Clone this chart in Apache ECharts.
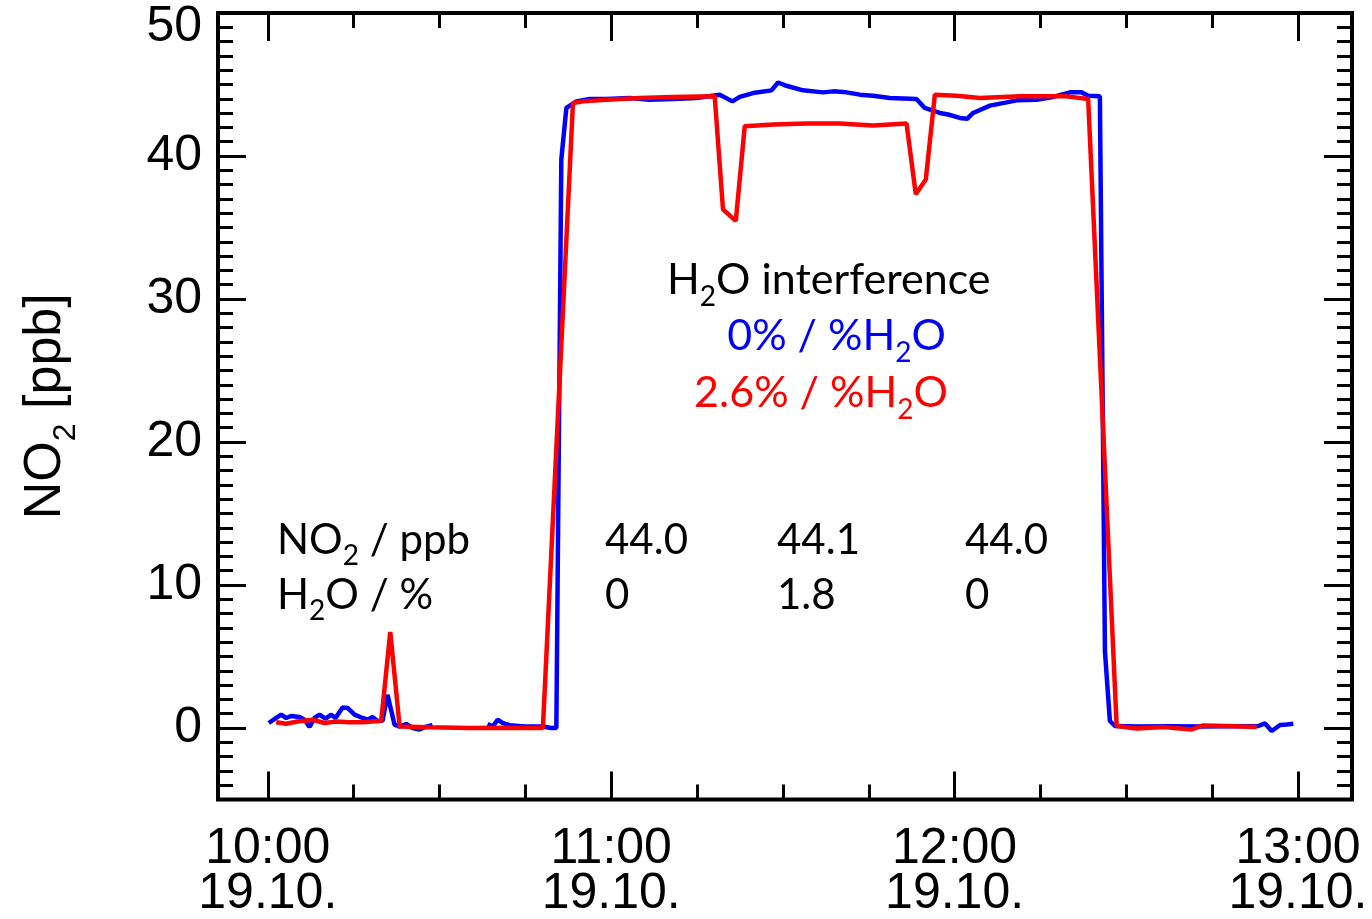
<!DOCTYPE html>
<html>
<head>
<meta charset="utf-8">
<script src="https://cdn.jsdelivr.net/npm/echarts@6/dist/echarts.min.js"></script>
<style>
  html, body { margin: 0; padding: 0; background: #fff; }
  #chart { width: 1372px; height: 919px; }
</style>
</head>
<body>
<div id="chart"></div>
<script>
// NO2 mixing ratio during the calibration run on 19.10.
// Times are local clock time (HH:MM:SS), values in ppb. null marks a data gap.
const blueTimes = [
  '10:00:10','10:01:28','10:02:20','10:03:13','10:04:05','10:05:32','10:06:25','10:07:17',
  '10:08:10','10:09:02','10:10:05','10:11:05','10:11:50','10:13:04','10:13:56','10:15:10',
  '10:16:33','10:17:26','10:18:18','10:19:11','10:20:03','10:20:55','10:22:09','10:23:01',
  '10:24:11','10:25:17','10:26:31','10:27:41','10:28:47','10:33:30','10:38:24','10:39:17',
  '10:40:09','10:41:01','10:42:15','10:44:52','10:48:01','10:49:32','10:50:25','10:51:17',
  '10:52:10','10:53:55','10:56:14','10:59:09','11:03:14','11:06:43','11:10:48','11:14:53',
  '11:18:58','11:21:11','11:22:28','11:24:47','11:28:00','11:29:09','11:30:37','11:33:31',
  '11:37:01','11:38:46','11:41:07','11:43:26','11:45:46','11:48:41','11:53:20','11:54:47',
  '11:57:25','11:58:52','12:00:55','12:02:11','12:03:14','12:06:10','12:09:05','12:10:50',
  '12:14:19','12:17:13','12:20:08','12:22:11','12:23:20','12:25:23','12:26:16','12:27:08',
  '12:28:01','12:32:23','12:37:37','12:42:52','12:48:07','12:53:04','12:54:14','12:55:24',
  '12:56:51','12:58:01','12:59:11'
];
const blueValues = [
  0.35, 0.70, 0.93, 0.70, 0.84, 0.77, 0.58, 0.07,
  0.70, 0.93, 0.65, 0.93, 0.70, 1.44, 1.40, 0.93,
  0.70, 0.58, 0.77, 0.49, 0.51, 2.32, 0.23, 0.10,
  0.28, 0.00, -0.10, 0.10, 0.20, null, 0.28, 0.10,
  0.58, 0.35, 0.20, 0.10, 0.10, 0.00, 0.00, 39.75,
  43.36, 43.82, 43.99, 43.99, 44.06, 43.94, 43.99, 44.06,
  44.29, 43.82, 44.13, 44.40, 44.59, 45.14, 44.91, 44.59,
  44.45, 44.52, 44.45, 44.29, 44.22, 44.06, 43.99, 43.36,
  43.01, 42.90, 42.66, 42.60, 43.01, 43.52, 43.75, 43.89,
  43.94, 44.13, 44.45, 44.45, 44.22, 44.17, 5.36, 0.49,
  0.14, 0.10, 0.12, 0.10, 0.12, 0.14, 0.32, -0.21,
  0.21, 0.25, 0.30
];

const redTimes = [
  '10:01:28','10:03:13','10:05:11','10:07:49','10:09:55','10:11:58','10:14:17','10:16:33',
  '10:19:49','10:21:24','10:23:02','10:28:16','10:35:16','10:42:15','10:48:04','10:53:19',
  '10:55:04','10:59:09','11:04:58','11:10:48','11:18:05','11:19:32','11:21:46','11:23:20',
  '11:28:17','11:34:07','11:39:56','11:45:46','11:51:36','11:53:13','11:54:58','11:56:33',
  '12:00:20','12:04:25','12:11:25','12:19:34','12:23:20','12:28:19','12:31:48','12:36:27',
  '12:41:25','12:43:27','12:47:32','12:52:47'
];
const redValues = [
  0.40, 0.30, 0.45, 0.58, 0.35, 0.45, 0.40, 0.40,
  0.51, 6.71, 0.10, 0.05, 0.00, 0.02, 0.00, 43.71,
  43.82, 43.94, 44.06, 44.13, 44.17, 36.27, 35.46, 42.08,
  42.20, 42.27, 42.27, 42.13, 42.27, 37.32, 38.36, 44.29,
  44.22, 44.06, 44.17, 44.17, 43.99, 0.14, -0.03, 0.07,
  -0.10, 0.18, 0.14, 0.07
];

// axis layout in clock time
const xStart = '09:51:18';
const xEnd = '13:09:26';
const hourTicks = ['10:00', '11:00', '12:00', '13:00'];
const quarterTicks = ['10:15','10:30','10:45','11:15','11:30','11:45','12:15','12:30','12:45'];
const dateLabel = '19.10.';
const yMin = -5;
const yMax = 50;
const yMajorTicks = [0, 10, 20, 30, 40, 50];

// measurement table: row labels as [text, subscript, text]
const rowNO2 = ['NO', '2', ' / ppb'];
const rowH2O = ['H', '2', 'O / %'];
const tableNO2 = ['44.0', '44.1', '44.0'];
const tableH2O = ['0', '1.8', '0'];
const interferenceBlue = '0%';
const interferenceRed = '2.6%';

function toMinutes(s) {
  const p = s.split(':').map(Number);
  return p[0] * 60 + p[1] + (p[2] || 0) / 60;
}
function pairs(times, values) {
  return times.map((t, i) => [toMinutes(t), values[i] === null ? '-' : values[i]]);
}
function clockLabel(v) {
  const h = Math.floor(v / 60 + 1e-6);
  const m = Math.round(v - h * 60);
  return h + ':' + String(m).padStart(2, '0') + '\n' + dateLabel;
}
function withSub(parts) {
  return '{m|' + parts[0] + '}{s|' + parts[1] + '}{m|' + parts[2] + '}';
}

const X_MIN = toMinutes(xStart);
const X_MAX = toMinutes(xEnd);
const hourVals = hourTicks.map(toMinutes);
const quarterVals = quarterTicks.map(toMinutes);

const BLACK = '#000';
const AXIS_FONT = 'Liberation Sans';
const NOTE_FONT = 'Lato';

function xAxisDef(position, values, len, withLabels) {
  return {
    type: 'value', min: X_MIN, max: X_MAX, position: position,
    axisLine: { show: false, onZero: false },
    splitLine: { show: false },
    axisTick: { show: true, inside: true, length: len, customValues: values,
                lineStyle: { color: BLACK, width: 3 } },
    axisLabel: withLabels ? {
      show: true, customValues: values, formatter: clockLabel,
      fontFamily: AXIS_FONT, fontSize: 50, lineHeight: 45, color: BLACK, margin: 27
    } : { show: false }
  };
}
function yAxisDef(position, major, withLabels) {
  const ax = {
    type: 'value', min: yMin, max: yMax, position: position,
    axisLine: { show: false, onZero: false },
    splitLine: { show: false },
    axisTick: { show: true, inside: true, length: major ? 28 : 15,
                lineStyle: { color: BLACK, width: 3 } },
    axisLabel: { show: false }
  };
  if (major) {
    ax.axisTick.customValues = yMajorTicks;
  } else {
    ax.interval = 1;
  }
  if (withLabels) {
    ax.axisLabel = {
      show: true, customValues: yMajorTicks,
      formatter: v => v === yMax ? '{top|' + v + '}' : String(v),
      fontFamily: AXIS_FONT, fontSize: 50, color: BLACK, margin: 16,
      rich: { top: { fontFamily: AXIS_FONT, fontSize: 50, color: BLACK, padding: [28, 0, 0, 0] } }
    };
    ax.name = '{n|NO}{s|2}{n| [ppb]}';
    ax.nameLocation = 'middle';
    ax.nameRotate = 90;
    ax.nameGap = 146;
    ax.nameTextStyle = {
      rich: {
        n: { fontFamily: AXIS_FONT, fontSize: 52, color: BLACK, lineHeight: 52, verticalAlign: 'top' },
        s: { fontFamily: AXIS_FONT, fontSize: 32, color: BLACK, lineHeight: 32, padding: [30, 0, 0, 0], verticalAlign: 'top' }
      }
    };
  }
  return ax;
}

// rich-text styles shared by the annotation block
function noteRich(color, size) {
  return {
    m: { fontFamily: NOTE_FONT, fontSize: size, lineHeight: size, fill: color, color: color, verticalAlign: 'top' },
    s: { fontFamily: NOTE_FONT, fontSize: Math.round(size * 0.66), lineHeight: Math.round(size * 0.66),
         fill: color, color: color, padding: [Math.round(size * 0.55), 0, 0, 0], verticalAlign: 'top' }
  };
}
function note(text, x, y, color, align, size) {
  return {
    type: 'text', x: x, y: y, z: 100,
    style: {
      text: text, rich: noteRich(color, size), fill: color,
      fontFamily: NOTE_FONT, fontSize: size,
      align: align, textAlign: align, verticalAlign: 'top', textVerticalAlign: 'top'
    }
  };
}

const NOTE_SIZE = 43;
const TABLE_SIZE = 42;
const graphics = [
  note('{m|H}{s|2}{m|O interference}', 667, 259, BLACK, 'left', NOTE_SIZE),
  note('{m|' + interferenceBlue + ' / %H}{s|2}{m|O}', 946, 315, '#0000ff', 'right', NOTE_SIZE),
  note('{m|' + interferenceRed + ' / %H}{s|2}{m|O}', 948, 372, '#ff0000', 'right', NOTE_SIZE),
  note(withSub(rowNO2), 277, 519, BLACK, 'left', TABLE_SIZE),
  note(withSub(rowH2O), 277, 574, BLACK, 'left', TABLE_SIZE)
];
const colX = [605, 777, 965];
tableNO2.forEach((t, i) => graphics.push(note('{m|' + t + '}', colX[i], 519, BLACK, 'left', TABLE_SIZE)));
tableH2O.forEach((t, i) => graphics.push(note('{m|' + t + '}', colX[i], 574, BLACK, 'left', TABLE_SIZE)));

const chart = echarts.init(document.getElementById('chart'), null, { renderer: 'canvas' });
chart.setOption({
  animation: false,
  backgroundColor: '#fff',
  grid: { left: 218, right: 20, top: 13, bottom: 117, show: true,
          borderColor: BLACK, borderWidth: 4, backgroundColor: 'transparent' },
  xAxis: [
    xAxisDef('bottom', hourVals, 28, true),
    xAxisDef('bottom', quarterVals, 15, false),
    xAxisDef('top', hourVals, 28, false),
    xAxisDef('top', quarterVals, 15, false)
  ],
  yAxis: [
    yAxisDef('left', true, true),
    yAxisDef('left', false, false),
    yAxisDef('right', true, false),
    yAxisDef('right', false, false)
  ],
  series: [
    {
      name: 'blue', type: 'line', xAxisIndex: 0, yAxisIndex: 0,
      data: pairs(blueTimes, blueValues), showSymbol: false, connectNulls: false,
      lineStyle: { color: '#0000ff', width: 4.5 }, itemStyle: { color: '#0000ff' }, z: 3
    },
    {
      name: 'red', type: 'line', xAxisIndex: 0, yAxisIndex: 0,
      data: pairs(redTimes, redValues), showSymbol: false,
      lineStyle: { color: '#ff0000', width: 4.5 }, itemStyle: { color: '#ff0000' }, z: 4
    }
  ],
  graphic: graphics
});
</script>
</body>
</html>
